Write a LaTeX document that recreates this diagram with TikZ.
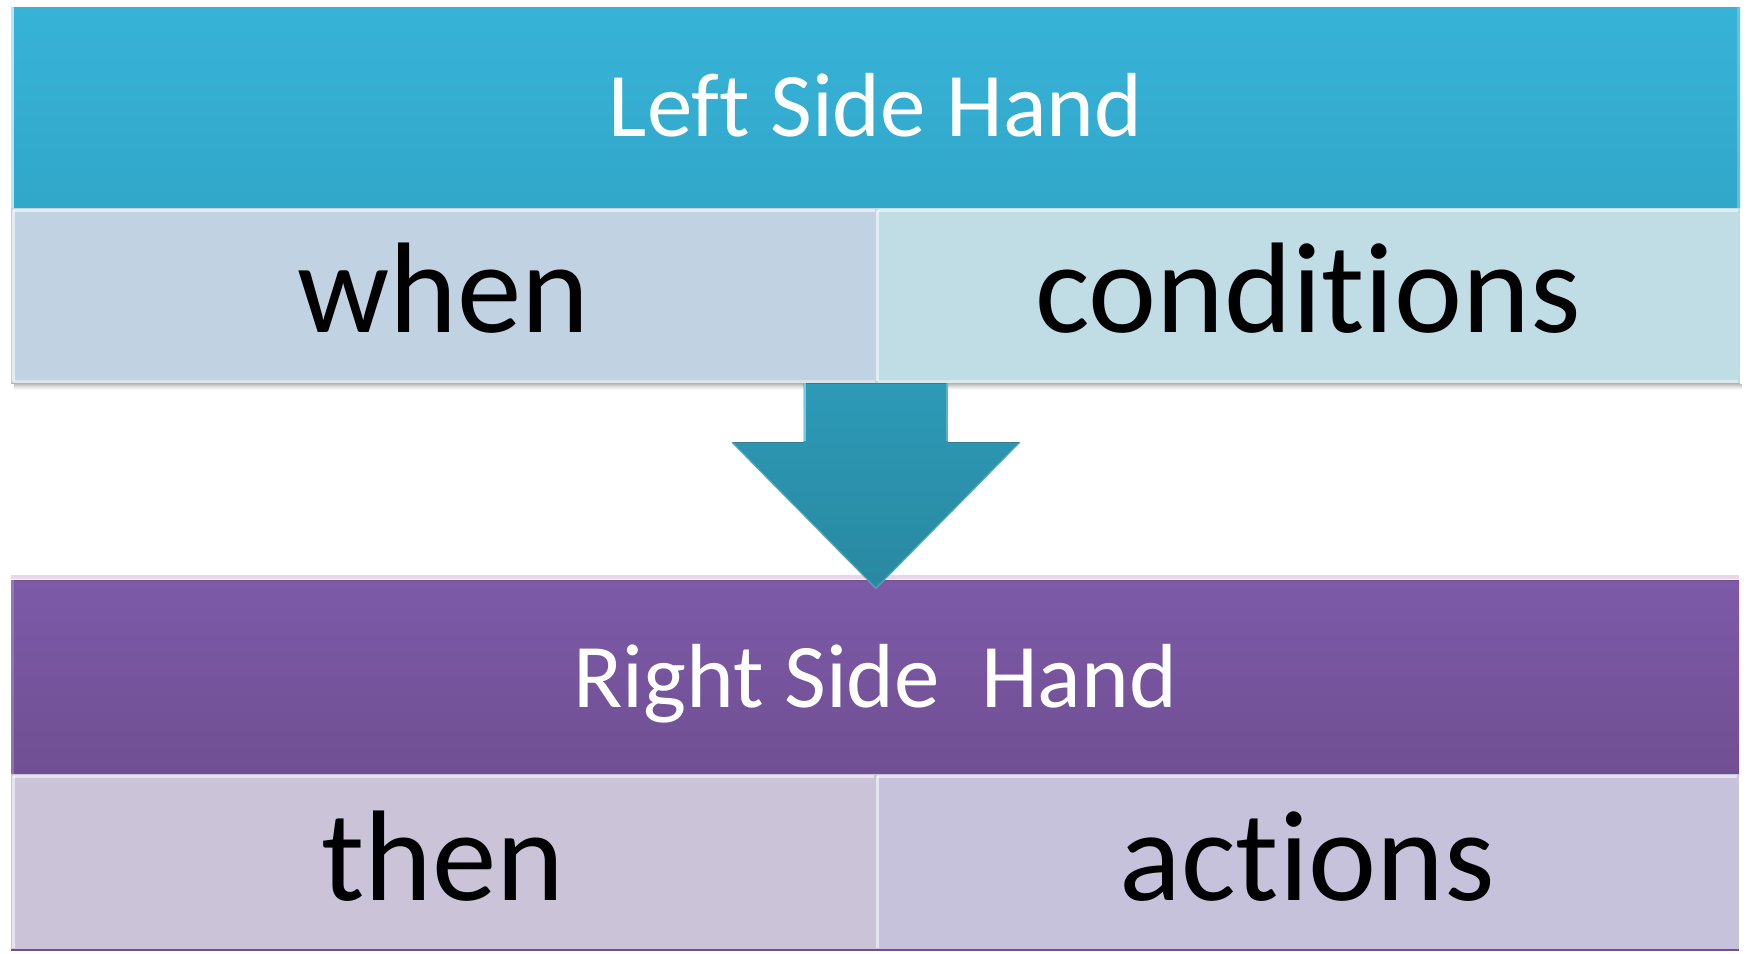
\documentclass[tikz,border=0pt]{standalone}
\usepackage{fontspec}
\setmainfont{Carlito}[Ligatures={NoCommon}]
\definecolor{cyanT}{HTML}{37B3D8}
\definecolor{cyanB}{HTML}{31A7C9}
\definecolor{cellA}{HTML}{C1D2E2}
\definecolor{cellB}{HTML}{C0DCE4}
\definecolor{purT}{HTML}{7C5AA8}
\definecolor{purB}{HTML}{704F93}
\definecolor{cellC}{HTML}{CBC3D8}
\definecolor{cellD}{HTML}{C6C2DB}
\definecolor{arrT}{HTML}{2D9AB7}
\definecolor{arrB}{HTML}{2988A1}
\begin{document}
\begin{tikzpicture}[x=1pt,y=-1pt,
  box/.style={rectangle, anchor=north west, inner sep=0pt, draw=none},
  hdrbox/.style={box, minimum width=1729pt, minimum height=201pt, text=white,
    font=\fontsize{91}{100}\selectfont},
  cellbox/.style={box, minimum width=864.5pt, minimum height=175pt, text=black,
    font=\fontsize{129}{140}\selectfont},
  bevel/.style={line width=3pt, opacity=0.55}
]
\useasboundingbox (0,0) rectangle (1747,953);
\fill[white] (0,0) rectangle (1747,953);
% shadow of top block
\foreach \i/\o in {1/0.25,2/0.2,3/0.15,4/0.1,5/0.06,6/0.03}{
  \fill[black, opacity=\o] (14,383+\i) rectangle (1742,384+\i);
}
% top block
\node[hdrbox, top color=cyanT, bottom color=cyanB, text height=57pt, text depth=0pt] (lhs) at (11,7) {Left Side Hand};
\node[cellbox, fill=cellA, text height=73pt, text depth=0pt] (when) at (11,208) {when};
\node[cellbox, fill=cellB, text height=73pt, text depth=0pt] (cond) at (875.5,208) {conditions};
% bevel highlights top block
\draw[line width=3pt, color=white!70!cyan] ([xshift=1.5pt]lhs.north west) -- ([xshift=1.5pt]lhs.south west);
\draw[line width=3pt, color=cyanT!70!white, opacity=0.7] ([xshift=-1.5pt]lhs.north east) -- ([xshift=-1.5pt]lhs.south east);
\draw[bevel, color=white] ([shift={(2,2)}]when.north west) -- ([shift={(-1,2)}]when.north east);
\draw[bevel, color=white] ([shift={(2,2)}]when.north west) -- ([shift={(2,-2)}]when.south west);
\draw[bevel, color=white] ([shift={(2,2)}]cond.north west) -- ([shift={(-2,2)}]cond.north east);
\draw[bevel, color=white] ([shift={(2,2)}]cond.north west) -- ([shift={(2,-2)}]cond.south west);
\draw[bevel, color=white, opacity=0.4] ([shift={(2,-2)}]when.south west) -- ([shift={(-1,-2)}]when.south east);
\draw[bevel, color=white, opacity=0.4] ([shift={(2,-2)}]cond.south west) -- ([shift={(-2,-2)}]cond.south east);
\draw[line width=1pt, color=gray!60] (when.south west) -- (cond.south east);
% bottom block
\node[hdrbox, minimum width=1728pt, minimum height=194pt, top color=purT, bottom color=purB, text height=60pt, text depth=0pt] (rhs) at (11,580) {Right Side \ Hand};
\node[cellbox, minimum width=864pt, minimum height=176pt, fill=cellC, text height=76pt, text depth=0pt] (then) at (11,774) {then};
\node[cellbox, minimum width=864pt, minimum height=176pt, fill=cellD, text height=76pt, text depth=0pt] (act) at (875,774) {actions};
\draw[line width=4pt, color=white!50!violet!40, opacity=0.8] ([yshift=3pt]rhs.north west) -- ([yshift=3pt]rhs.north east);
\draw[line width=1pt, color=purB] (rhs.north west) -- (rhs.north east);
\draw[line width=3pt, color=purT!70!white, opacity=0.6] ([xshift=1.5pt]rhs.north west) -- ([xshift=1.5pt]rhs.south west);
\draw[bevel, color=white] ([shift={(2,2)}]then.north west) -- ([shift={(-1,2)}]then.north east);
\draw[bevel, color=white] ([shift={(2,2)}]then.north west) -- ([shift={(2,-2)}]then.south west);
\draw[bevel, color=white] ([shift={(2,2)}]act.north west) -- ([shift={(-2,2)}]act.north east);
\draw[bevel, color=white] ([shift={(2,2)}]act.north west) -- ([shift={(2,-2)}]act.south west);
\draw[line width=2pt, color=purB] (then.south west) -- (act.south east);
% arrow (drawn last so its tip overlaps the lower block)
\fill[top color=arrT, bottom color=arrB]
  ([xshift=-72pt]when.south east) -- ++(144,0) -- ++(0,59) -- ++(72,0)
  -- ++(-144,146) -- ++(-144,-146) -- ++(72,0) -- cycle;
\draw[line width=2pt, color=white!60!cyan, opacity=0.7]
  ([xshift=-71pt]when.south east) -- ++(0,58);
\draw[line width=2pt, color=arrT!60!white, opacity=0.6]
  ([xshift=71pt]when.south east) -- ++(0,58);
\draw[line width=1.5pt, color=arrT!70!white, opacity=0.6]
  ([shift={(144,59)}]when.south east) -- ++(-144,146);
\draw[line width=1.5pt, color=arrT!70!white, opacity=0.6]
  ([shift={(-144,59)}]when.south east) -- ++(144,146);
\end{tikzpicture}
\end{document}
